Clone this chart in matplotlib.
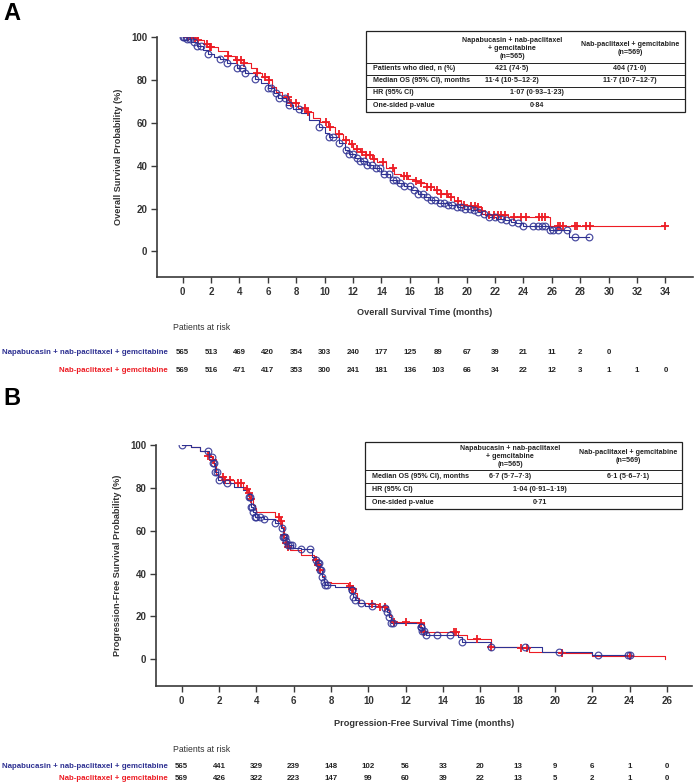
import numpy as np
import matplotlib
matplotlib.use('Agg')
import matplotlib.pyplot as plt
from matplotlib.transforms import blended_transform_factory
from matplotlib.patches import Rectangle
from matplotlib.lines import Line2D

# ---------------- data ----------------
# Panel A : overall survival (months, %)
os_red_t = [0, 0.5, 1.0, 1.5, 1.9, 2.5, 3.2, 3.7, 4.3, 4.8, 5.2, 5.6, 6.0, 6.3, 6.6, 7.0, 7.5, 8.1,
            8.7, 9.2, 9.7, 10.2, 10.7, 11.3, 11.7, 12.0, 12.5, 12.9, 13.3, 13.7, 14.3, 14.9, 15.4,
            15.9, 16.4, 16.8, 17.2, 17.7, 18.2, 18.7, 19.1, 19.6, 20.2, 20.8, 21.0, 21.3, 22.9,
            25.9, 34.0]
os_red_s = [100, 99.5, 98.7, 97, 95.6, 93.5, 91.4, 89.5, 87.8, 85.5, 83.1, 81.5, 80.0, 77, 74.5, 72,
            69.1, 67, 64.9, 62.5, 60.5, 58.2, 55, 51.9, 50, 48.0, 46.5, 44.9, 43.3, 41.8, 39, 36.3,
            35, 34.0, 32.8, 31.7, 30.2, 28.5, 27, 25.4, 23.5, 21.8, 21.2, 20.7, 18.8, 16.8, 16.0,
            11.7, 11.7]
os_red_cens = [0.4, 0.9, 1.1, 1.7, 1.9, 2.0, 3.2, 3.8, 4.1, 4.3, 5.2, 5.8, 6.1, 7.4, 7.6, 8.0, 8.6,
               8.8, 10.1, 10.4, 11.0, 11.5, 11.9, 12.3, 12.6, 12.9, 13.2, 13.5, 14.1, 14.8, 15.6,
               15.8, 16.4, 16.8, 17.2, 17.5, 17.9, 18.2, 18.6, 18.9, 19.4, 19.8, 20.3, 20.6, 20.8,
               21.1, 21.6, 21.9, 22.2, 22.4, 22.7, 23.3, 23.8, 24.2, 25.1, 25.3, 25.5, 26.4, 26.6,
               26.8, 27.6, 27.8, 28.4, 28.7, 34.0]

os_blue_t = [0, 0.3, 0.6, 1.0, 1.4, 1.8, 2.2, 2.6, 3.1, 3.8, 4.4, 5.1, 5.5, 6.0, 6.4, 6.7, 7.3, 7.8,
             8.3, 8.9, 9.6, 10.0, 10.3, 11.0, 11.4, 11.7, 12.1, 12.5, 13.0, 13.4, 14.0, 14.6, 15.1,
             15.6, 16.1, 16.6, 17.0, 17.4, 18.0, 18.7, 19.3, 19.8, 20.3, 20.8, 21.1, 21.5, 22.1,
             22.7, 23.1, 23.5, 24.0, 25.8, 27.2, 28.6]
os_blue_s = [100, 99, 97.8, 96, 94, 92, 91, 89.7, 87.8, 85.8, 83.1, 80.5, 78.5, 76.1, 74, 71.7, 68.3,
             66.3, 64.4, 61.5, 58.2, 55.5, 53.5, 50.4, 47.5, 45.7, 43.8, 42.1, 40.3, 38.7, 36.3, 33.2,
             31.8, 30.6, 28.8, 27.0, 25.5, 23.9, 22.8, 21.8, 20.9, 20.0, 19.2, 18.4, 17.3, 16.1,
             15.3, 14.5, 13.8, 13.0, 11.7, 9.8, 6.7, 6.7]
os_blue_cens = [0.0, 0.1, 0.2, 0.3, 0.5, 0.8, 1.0, 1.3, 1.8, 2.6, 3.1, 3.8, 4.2, 4.4, 5.1, 6.0, 6.2,
                6.6, 6.8, 7.2, 7.5, 8.2, 9.6, 10.3, 10.6, 11.0, 11.5, 11.7, 12.0, 12.3, 12.5, 12.8,
                13.0, 13.3, 13.6, 13.9, 14.2, 14.5, 14.8, 15.0, 15.3, 15.6, 16.0, 16.3, 16.6, 16.9,
                17.2, 17.5, 17.8, 18.1, 18.4, 18.7, 19.0, 19.3, 19.6, 19.9, 20.2, 20.5, 20.8, 21.2,
                21.6, 22.0, 22.4, 22.8, 23.2, 23.6, 24.0, 24.7, 25.0, 25.3, 25.5, 25.9, 26.1, 26.4,
                27.1, 27.6, 28.6]

# Panel B : progression-free survival
pfs_red_t = [0, 0.5, 1.0, 1.4, 1.6, 1.75, 1.85, 1.95, 2.25, 2.8, 3.3, 3.5, 3.6, 3.7, 3.8, 3.9, 4.0,
             5.0, 5.3, 5.4, 5.5, 5.6, 5.7, 5.8, 6.4, 7.1, 7.25, 7.4, 7.5, 7.6, 8.0, 8.9, 9.1, 9.3,
             9.4, 9.5, 10.0, 10.5, 11.0, 11.1, 11.2, 11.4, 12.7, 13.0, 14.8, 15.3, 16.6, 18.2, 18.6,
             20.2, 22.0, 25.9]
pfs_red_s = [100, 99, 97.3, 95, 93, 90, 86.5, 85.2, 83.7, 82.1, 80.5, 79.5, 77.5, 75, 72.0, 70.5,
             68.9, 66.5, 64.5, 61.9, 58, 54.1, 52.5, 51.0, 48.7, 46.3, 44, 41.7, 39, 36.2, 35.5, 34.2,
             33, 30.8, 28.5, 26.1, 25.7, 24.5, 23.0, 20.5, 18.0, 17.6, 16.8, 12.9, 11.3, 9.3, 5.9,
             5.1, 3.5, 2.8, 1.5, 0]
pfs_red_cens = [1.4, 1.7, 2.2, 2.3, 2.6, 3.0, 3.2, 3.5, 3.6, 3.7, 5.2, 5.3, 5.5, 5.6, 5.7, 7.2, 7.3,
                7.4, 9.0, 9.1, 9.2, 10.2, 10.6, 10.9, 11.4, 12.0, 12.8, 13.0, 14.6, 14.7, 15.8, 16.6,
                18.2, 18.5, 20.4, 24.0]

pfs_blue_t = [0, 0.5, 1.0, 1.45, 1.7, 1.8, 1.97, 2.2, 2.8, 3.3, 3.6, 3.7, 3.8, 3.9, 4.4, 5.0, 5.3,
              5.45, 5.6, 5.7, 5.95, 6.4, 7.0, 7.2, 7.3, 7.4, 7.5, 7.6, 7.7, 8.2, 9.0, 9.2, 9.3, 9.45,
              9.8, 10.9, 11.0, 11.1, 11.2, 12.7, 12.9, 13.1, 14.8, 15.0, 16.6, 19.3, 22.0, 24.0]
pfs_blue_s = [100, 99, 97.3, 94.5, 91.4, 87.5, 83.7, 82.4, 80.5, 79.0, 75.9, 71.2, 68.5, 66.3, 65.3,
              63.5, 61.1, 57.2, 55, 53.3, 51.8, 51.3, 47.9, 46.5, 44.8, 41.5, 38.5, 36, 34.7, 33.6,
              32.3, 29.2, 27.5, 26.1, 24.9, 23.8, 22, 19.9, 17.1, 15.2, 13, 11.3, 10.3, 8.2, 5.6, 3.5,
              2.0, 2.0]
pfs_blue_cens = [0, 1.4, 1.6, 1.7, 1.75, 1.8, 1.9, 2.0, 2.4, 3.6, 3.65, 3.7, 3.75, 3.8, 3.9, 4.0, 4.2,
                 4.4, 5.0, 5.4, 5.45, 5.5, 5.55, 5.6, 5.7, 5.8, 5.9, 6.4, 6.9, 7.2, 7.3, 7.35, 7.4,
                 7.45, 7.5, 7.6, 7.7, 7.8, 9.1, 9.15, 9.2, 9.3, 9.6, 10.2, 10.9, 11.0, 11.1, 11.2,
                 11.3, 12.8, 12.85, 12.9, 13.0, 13.1, 13.7, 14.4, 15.0, 16.6, 18.4, 20.2, 22.3, 23.9,
                 24.0]

# Patients at risk
risk_A_times_blue = list(range(0, 31, 2))
risk_A_blue = [565, 513, 469, 420, 354, 303, 240, 177, 125, 89, 67, 39, 21, 11, 2, 0]
risk_A_times_red = list(range(0, 35, 2))
risk_A_red = [569, 516, 471, 417, 353, 300, 241, 181, 136, 103, 66, 34, 22, 12, 3, 1, 1, 0]
risk_B_times = list(range(0, 27, 2))
risk_B_blue = [565, 441, 329, 239, 148, 102, 56, 33, 20, 13, 9, 6, 1, 0]
risk_B_red = [569, 426, 322, 223, 147, 99, 60, 39, 22, 13, 5, 2, 1, 0]

arm_blue = "Napabucasin + nab-paclitaxel + gemcitabine"
arm_red = "Nab-paclitaxel + gemcitabine"
hdr_blue = "Napabucasin + nab-paclitaxel\n+ gemcitabine\n(n=565)"
hdr_red = "Nab-paclitaxel + gemcitabine\n(n=569)"
tableA_rows = [("Patients who died, n (%)", "421 (74·5)", "404 (71·0)"),
               ("Median OS (95% CI), months", "11·4 (10·5–12·2)", "11·7 (10·7–12·7)"),
               ("HR (95% CI)", "1·07 (0·93–1·23)", None),
               ("One-sided p-value", "0·84", None)]
tableB_rows = [("Median OS (95% CI), months", "6·7 (5·7–7·3)", "6·1 (5·6–7·1)"),
               ("HR (95% CI)", "1·04 (0·91–1·19)", None),
               ("One-sided p-value", "0·71", None)]

# ---------------- style ----------------
BLUE = '#2e3192'
RED = '#ed1c24'
AXC = '#3a3a3a'
NARROW = ['Liberation Sans Narrow', 'Liberation Sans', 'DejaVu Sans']
SANS = ['Liberation Sans', 'DejaVu Sans']
plt.rcParams['font.family'] = SANS
TFS = 5.1   # table font size
RFS = 5.7   # risk table font size

W, H = 694, 782
fig = plt.figure(figsize=(W / 100, H / 100), dpi=100)


def fx(px):
    return px / W


def fy(py):
    return 1 - py / H


def km(ax, t, s, cens, color, marker):
    t = np.asarray(t, float)
    s = np.asarray(s, float)
    ax.step(t, s, where='post', color=color, lw=0.8, zorder=3)
    c = np.asarray(cens, float)
    idx = np.clip(np.searchsorted(t, c, side='right') - 1, 0, len(s) - 1)
    cy = s[idx]
    if marker == 'o':
        ax.plot(c, cy, 'o', mfc='none', mec=color, ms=4.8, mew=0.9, alpha=0.85, zorder=4)
    else:
        ax.plot(c, cy, '+', color=color, ms=5.5, mew=1.3, zorder=4)


def style_axes(ax, xt, xlim, ylim, xlabel, ylabel, xlab_y):
    ax.set_xlim(*xlim)
    ax.set_ylim(*ylim)
    for sp in ['top', 'right']:
        ax.spines[sp].set_visible(False)
    for sp in ['left', 'bottom']:
        ax.spines[sp].set_color(AXC)
        ax.spines[sp].set_linewidth(1.2)
    ax.set_xticks(xt)
    ax.set_yticks(range(0, 101, 20))
    ax.tick_params(direction='out', length=4, width=1, color=AXC, labelsize=7,
                   labelcolor='#333333', pad=3)
    for lab in ax.get_xticklabels() + ax.get_yticklabels():
        lab.set_fontweight('bold')
    ax.set_xlabel(xlabel, fontsize=6.6, fontweight='bold', color='#333333')
    ax.set_ylabel(ylabel, fontsize=6.6, fontweight='bold', color='#333333')
    ax.xaxis.set_label_coords(0.5, xlab_y)
    ax.yaxis.set_label_coords(-0.064, 0.5)


def tbl_text(x, y, s, ha='center'):
    fig.text(fx(x), fy(y), s, ha=ha, va='center', fontsize=TFS, fontweight='bold',
             family=NARROW, color='#222222', linespacing=1.2)


def draw_table(x0, x1, y0, hdr_bottom, row_lines, bottom, c2, c3, span_c, rows, hdr_y):
    fig.patches.append(Rectangle((fx(x0), fy(bottom)), fx(x1) - fx(x0), fy(y0) - fy(bottom),
                                 transform=fig.transFigure, fill=False, ec='#222222', lw=0.9))
    for ly in [hdr_bottom] + row_lines:
        fig.add_artist(Line2D([fx(x0), fx(x1)], [fy(ly), fy(ly)], transform=fig.transFigure,
                              color='#222222', lw=0.7))
    tbl_text(c2, hdr_y, hdr_blue)
    tbl_text(c3, hdr_y, hdr_red)
    edges = [hdr_bottom] + row_lines + [bottom]
    for i, (lab, v1, v2) in enumerate(rows):
        yc = (edges[i] + edges[i + 1]) / 2
        tbl_text(x0 + 7, yc, lab, ha='left')
        if v2 is None:
            tbl_text(span_c, yc, v1)
        else:
            tbl_text(c2, yc, v1)
            tbl_text(c3, yc, v2)


def risk_table(ax, title_y, yb, yr, tb, vb, tr, vr):
    tr_ = blended_transform_factory(ax.transData, fig.transFigure)
    fig.text(fx(173), fy(title_y), "Patients at risk", ha='left', va='center', fontsize=6.2,
             color='#333333', family=NARROW)
    fig.text(fx(168), fy(yb), arm_blue, ha='right', va='center', fontsize=RFS, color=BLUE,
             family=NARROW, fontweight='bold')
    fig.text(fx(168), fy(yr), arm_red, ha='right', va='center', fontsize=RFS, color=RED,
             family=NARROW, fontweight='bold')
    for t, v in zip(tb, vb):
        ax.text(t, fy(yb), str(v), transform=tr_, ha='center', va='center', fontsize=RFS,
                fontweight='bold', family=NARROW, color='#222222', clip_on=False)
    for t, v in zip(tr, vr):
        ax.text(t, fy(yr), str(v), transform=tr_, ha='center', va='center', fontsize=RFS,
                fontweight='bold', family=NARROW, color='#222222', clip_on=False)


# ---------------- Panel A ----------------
axA = fig.add_axes([fx(157), fy(277), fx(693) - fx(157), fy(37.3) - fy(277)])
km(axA, os_red_t, os_red_s, os_red_cens, RED, '+')
km(axA, os_blue_t, os_blue_s, os_blue_cens, BLUE, 'o')
style_axes(axA, range(0, 35, 2), (-1.81, 35.94), (-12, 100),
           "Overall Survival Time (months)", "Overall Survival Probability (%)", -0.128)
fig.text(fx(3), fy(14), "A", fontsize=17, fontweight='bold', ha='left', va='center')
draw_table(366, 685, 31, 63, [75, 87, 99], 112, 512, 630, 537, tableA_rows, 48)
risk_table(axA, 328, 353, 370, risk_A_times_blue, risk_A_blue, risk_A_times_red, risk_A_red)

# ---------------- Panel B ----------------
axB = fig.add_axes([fx(156), fy(686), fx(692) - fx(156), fy(445) - fy(686)])
km(axB, pfs_red_t, pfs_red_s, pfs_red_cens, RED, '+')
km(axB, pfs_blue_t, pfs_blue_s, pfs_blue_cens, BLUE, 'o')
style_axes(axB, range(0, 27, 2), (-1.38, 27.35), (-12.5, 100),
           "Progression-Free Survival Time (months)", "Progression-Free Survival Probability (%)",
           -0.136)
fig.text(fx(3), fy(399), "B", fontsize=17, fontweight='bold', ha='left', va='center')
draw_table(365, 682, 442, 470, [483, 496], 509, 510, 628, 540, tableB_rows, 456)
risk_table(axB, 750, 766, 778, risk_B_times, risk_B_blue, risk_B_times, risk_B_red)

fig.savefig('out.png', dpi=100)
